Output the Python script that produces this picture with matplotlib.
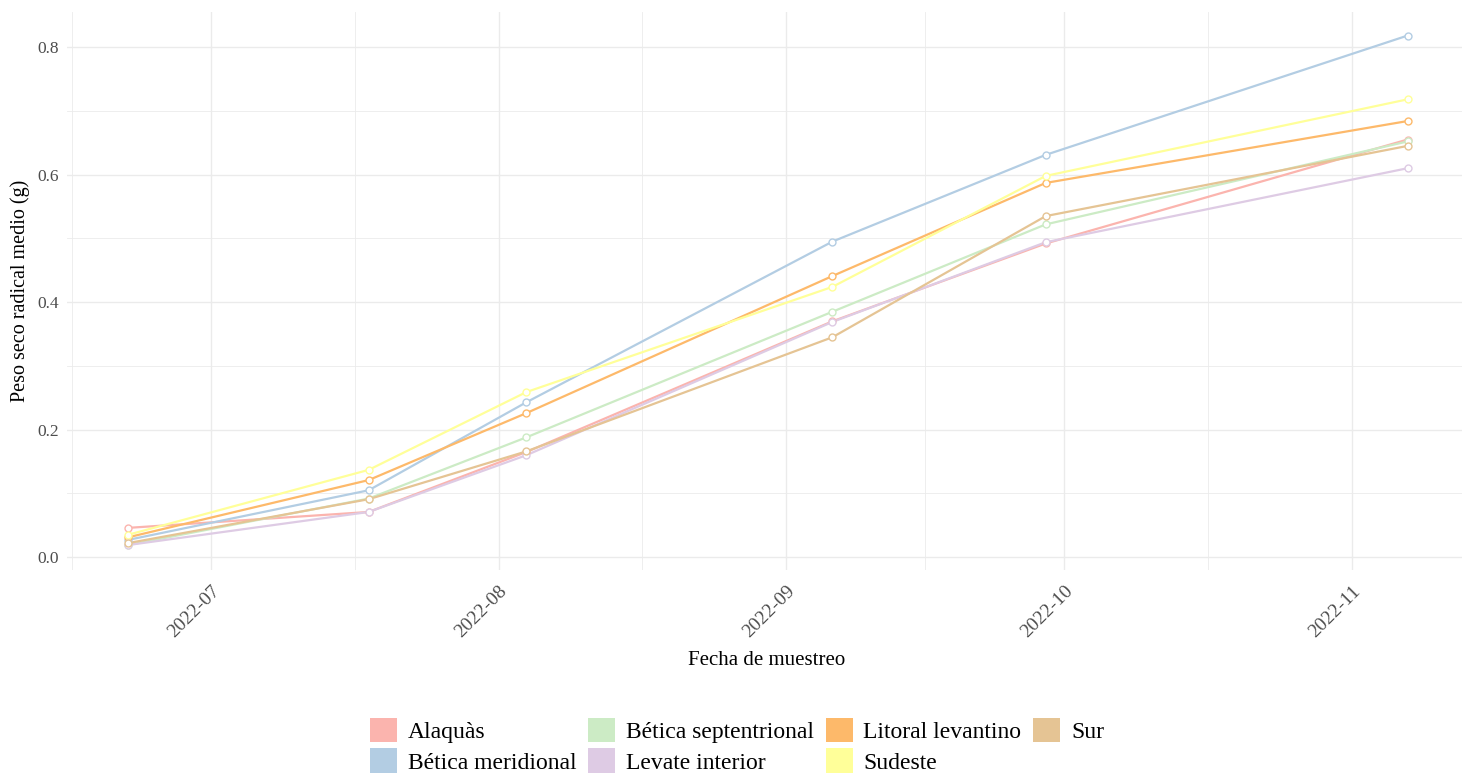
import matplotlib
matplotlib.use('Agg')
import matplotlib.pyplot as plt
import matplotlib.dates as mdates
from matplotlib.patches import Patch
import pandas as pd
import numpy as np

plt.rcParams['font.family'] = ['Liberation Serif', 'DejaVu Serif']

# sampling dates
fechas = pd.to_datetime(['2022-06-22', '2022-07-18', '2022-08-04',
                         '2022-09-06', '2022-09-29', '2022-11-07'])

zonas = ['Alaquàs', 'Bética meridional', 'Bética septentrional',
         'Levate interior', 'Litoral levantino', 'Sudeste', 'Sur']

alaquas = [0.046, 0.071, 0.165, 0.370, 0.492, 0.655]
betica_meridional = [0.027, 0.105, 0.243, 0.495, 0.631, 0.818]
betica_septentrional = [0.019, 0.092, 0.188, 0.385, 0.522, 0.652]
levate_interior = [0.019, 0.071, 0.160, 0.369, 0.494, 0.610]
litoral_levantino = [0.031, 0.121, 0.226, 0.441, 0.587, 0.684]
sudeste = [0.035, 0.137, 0.259, 0.424, 0.598, 0.718]
sur = [0.022, 0.091, 0.166, 0.345, 0.535, 0.645]

series = [alaquas, betica_meridional, betica_septentrional, levate_interior,
          litoral_levantino, sudeste, sur]
colores = ['#FBB4AE', '#B3CDE3', '#CCEBC5', '#DECBE4', '#FDB96A', '#FFFF99', '#E5C494']

fig = plt.figure(figsize=(14.62, 7.76), dpi=100)
# panel runs past the right edge of the image, like the original
ax = fig.add_axes([67 / 1462, (776 - 570) / 776, (1491 - 67) / 1462, (570 - 12) / 776])

x = mdates.date2num(fechas)
for vals, col in zip(series, colores):
    ax.plot(x, vals, color=col, lw=1.6, zorder=2)
for vals, col in zip(series, colores):
    ax.plot(x, vals, ls='none', marker='o', ms=5, mfc='white', mec=col, mew=1.0, zorder=3)

jul1 = mdates.date2num(pd.Timestamp('2022-07-01'))
nov1 = mdates.date2num(pd.Timestamp('2022-11-01'))
px_dia = (1352 - 211) / (nov1 - jul1)
ax.set_xlim(jul1 - (211 - 67) / px_dia, nov1 + (1472 - 1352) / px_dia)
ax.set_ylim(-0.02, 0.855)

ax.xaxis.set_major_locator(mdates.MonthLocator())
ax.xaxis.set_major_formatter(mdates.DateFormatter('%Y-%m'))
meses = mdates.date2num(pd.date_range('2022-06-01', '2022-12-01', freq='MS'))
ax.set_xticks((meses[:-1] + meses[1:]) / 2, minor=True)
ax.set_yticks([0.0, 0.2, 0.4, 0.6, 0.8])
ax.set_yticks([0.1, 0.3, 0.5, 0.7], minor=True)
ax.yaxis.set_major_formatter(matplotlib.ticker.FormatStrFormatter('%.1f'))

ax.grid(True, which='major', color='#EBEBEB', lw=1.0)
ax.grid(True, which='minor', color='#EBEBEB', lw=0.6)
ax.set_axisbelow(True)
for s in ax.spines.values():
    s.set_visible(False)
ax.tick_params(which='both', length=0)
ax.tick_params(axis='y', labelsize=12.5, labelcolor='#4D4D4D', pad=6)
ax.tick_params(axis='x', labelsize=14, labelcolor='#4D4D4D', pad=9)
for lab in ax.get_xticklabels():
    lab.set_rotation(45)
    lab.set_ha('right')
    lab.set_rotation_mode('anchor')

ax.set_xlabel('Fecha de muestreo', fontsize=15)
ax.xaxis.set_label_coords((767 - 67) / (1491 - 67), -0.145)
ax.set_ylabel('Peso seco radical medio (g)', fontsize=14.5, labelpad=5)

handles = [Patch(facecolor=c, edgecolor='none') for c in colores]
fig.legend(handles, zonas, loc='lower center', bbox_to_anchor=(0.504, -0.012),
           ncol=4, frameon=False, fontsize=17, handlelength=1.15, handleheight=1.2,
           handletextpad=0.45, columnspacing=0.5, labelspacing=0.22, borderaxespad=0.1)

fig.savefig('out.png', dpi=100, facecolor='white')
